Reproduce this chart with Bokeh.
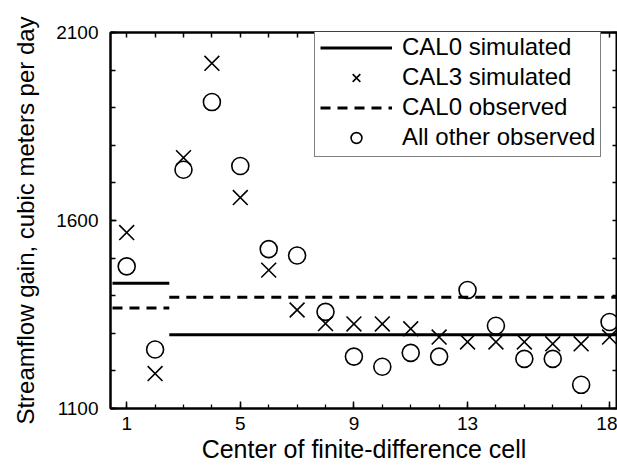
from bokeh.plotting import figure
from bokeh.models import (Range1d, FixedTicker, LinearAxis, Legend, LegendItem,
                          ColumnDataSource, CustomLabelingPolicy)
from bokeh.embed import file_html
from bokeh.resources import INLINE

# ---- data ----
cells = list(range(1, 19))
cal3_simulated = [1568, 1193, 1767, 2018, 1661, 1468, 1362, 1326, 1325,
                  1325, 1312, 1290, 1277, 1277, 1277, 1272, 1272, 1290]
all_other_observed = [1478, 1257, 1735, 1915, 1745, 1524, 1507, 1357, 1238,
                      1211, 1248, 1238, 1415, 1320, 1232, 1232, 1163, 1330]
# CAL0 values are constant over reaches (cell ranges)
reach_start = [0.5, 2.5]
reach_end = [2.5, 18.5]
cal0_simulated = [1433, 1296]
cal0_observed = [1367, 1396]

x_major_ticks = [1, 5, 9, 13, 18]
y_major_ticks = [1100, 1600, 2100]
y_minor_ticks = list(range(1100, 2101, 100))

FONT = "Liberation Sans"

p = figure(width=617, height=465, output_backend="svg", toolbar_location=None,
           x_range=Range1d(0.43, 18.28), y_range=Range1d(1100, 2100),
           min_border_left=110, min_border_right=0, min_border_top=32, min_border_bottom=53)
p.grid.visible = False
p.outline_line_color = "black"
p.outline_line_width = 2
p.background_fill_color = "white"
p.border_fill_color = "white"


def style_axis(ax, ticks, minor, labels=True, major_len=7, minor_len=4):
    ax.ticker = FixedTicker(ticks=ticks, minor_ticks=minor)
    ax.axis_line_color = "black"
    ax.axis_line_width = 2
    ax.major_tick_in = major_len
    ax.major_tick_out = 0
    ax.minor_tick_in = minor_len
    ax.minor_tick_out = 0
    ax.major_tick_line_color = "black"
    ax.major_tick_line_width = 1.5
    ax.minor_tick_line_color = "black"
    ax.minor_tick_line_width = 1.3
    ax.major_label_text_font = FONT
    ax.major_label_text_color = "black"
    ax.axis_label_text_font = FONT
    ax.axis_label_text_font_style = "normal"
    ax.axis_label_text_color = "black"
    if labels:
        ax.major_label_text_font_size = "19px"
        ax.axis_label_text_font_size = "24px"
    else:
        ax.major_label_text_font_size = "0px"
        ax.major_label_standoff = 0
        ax.axis_label_standoff = 0
        ax.major_label_policy = CustomLabelingPolicy(
            code="for (const i of [...indices]) { indices.unset(i) } return indices")


xa = p.xaxis[0]
style_axis(xa, x_major_ticks, cells)
xa.axis_label = "Center of finite-difference cell"
xa.axis_label_text_font_size = "25px"
xa.major_label_standoff = 8
xa.axis_label_standoff = 2

ya = p.yaxis[0]
style_axis(ya, y_major_ticks, y_minor_ticks, major_len=6, minor_len=5)
ya.axis_label = "Streamflow gain, cubic meters per day"
ya.major_label_standoff = 12
ya.axis_label_standoff = 14

top = LinearAxis()
style_axis(top, cells, [], labels=False, major_len=5)
p.add_layout(top, "above")
right = LinearAxis()
style_axis(right, y_minor_ticks, [], labels=False, major_len=5)
p.add_layout(right, "right")

src_sim = ColumnDataSource(dict(x0=reach_start, x1=reach_end, y=cal0_simulated))
src_obs = ColumnDataSource(dict(x0=reach_start, x1=reach_end, y=cal0_observed))

r_sim = p.segment(x0="x0", y0="y", x1="x1", y1="y", source=src_sim,
                  line_color="black", line_width=3)
r_obs = p.segment(x0="x0", y0="y", x1="x1", y1="y", source=src_obs,
                  line_color="black", line_width=3, line_dash="10 7")
r_x = p.scatter(cells, cal3_simulated, marker="x", size=21, line_color="black", line_width=1.6)
r_o = p.scatter(cells, all_other_observed, marker="circle", size=17, fill_color=None,
                line_color="black", line_width=1.6)

legend = Legend(items=[
    LegendItem(label="CAL0 simulated", renderers=[r_sim]),
    LegendItem(label="CAL3 simulated", renderers=[r_x]),
    LegendItem(label="CAL0 observed", renderers=[r_obs]),
    LegendItem(label="All other observed", renderers=[r_o]),
], location=(204, 251))
legend.margin = 0
legend.padding = 5
legend.spacing = 2
legend.glyph_width = 72
legend.glyph_height = 27
legend.label_height = 27
legend.label_standoff = 10
legend.label_text_font = FONT
legend.label_text_font_size = "24px"
legend.label_text_color = "black"
legend.border_line_color = "black"
legend.border_line_width = 1.5
legend.background_fill_color = "white"
legend.background_fill_alpha = 1
p.add_layout(legend)

open("out.html", "w").write(file_html(p, INLINE))
